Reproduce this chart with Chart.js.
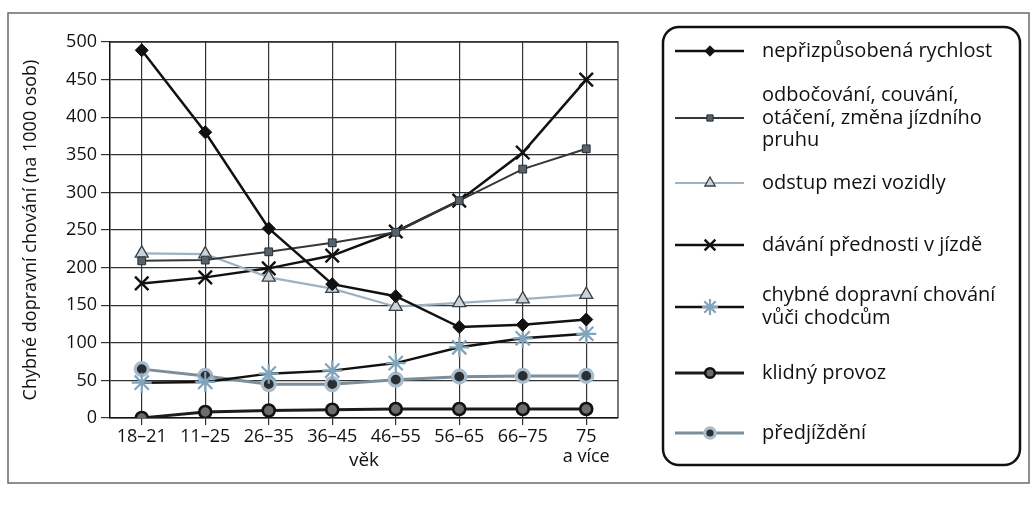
<!DOCTYPE html>
<html lang="cs">
<head>
<meta charset="utf-8">
<title>Chybné dopravní chování podle věku</title>
<script src="https://cdn.jsdelivr.net/npm/chart.js@4/dist/chart.umd.min.js"></script>
<style>
  html, body { margin: 0; padding: 0; background: #fff; }
  #wrap { width: 1035px; height: 511px; position: relative; }
</style>
</head>
<body>
<div id="wrap"><canvas id="chart"></canvas></div>
<script>
// ===== DATA =====
const ageGroups = ['18–21', '11–25', '26–35', '36–45', '46–55', '56–65', '66–75', ['75', 'a více']];
const yTicks = [0, 50, 100, 150, 200, 250, 300, 350, 400, 450, 500];

const speeding      = [489, 380, 252, 178, 162, 121, 124, 131];
const turning       = [209, 210, 221, 233, 247, 289, 331, 358];
const distance      = [219, 218, 187, 172, 148, 153, 158, 164];
const rightOfWay    = [179, 187, 199, 216, 248, 289, 353, 450];
const pedestrians   = [47, 48, 59, 63, 73, 94, 106, 112];
const parking       = [0, 8, 10, 11, 12, 12, 12, 12];
const overtaking    = [65, 56, 45, 45, 51, 55, 56, 56];

const seriesNames = [
  ['nepřizpůsobená rychlost'],
  ['odbočování, couvání,', 'otáčení, změna jízdního', 'pruhu'],
  ['odstup mezi vozidly'],
  ['dávání přednosti v jízdě'],
  ['chybné dopravní chování', 'vůči chodcům'],
  ['klidný provoz'],
  ['předjíždění']
];

const FONT = '"Open Sans", "DejaVu Sans", sans-serif';

/**
 * Build the datasets, one per behaviour type.
 */
function buildDatasets() {
  return [
    { label: seriesNames[0].join(' '), data: speeding, borderColor: '#111', borderWidth: 2.5,
      pointStyle: 'rectRot', pointRadius: 6.5, pointBackgroundColor: '#111', pointBorderColor: '#111', pointBorderWidth: 1 },
    { label: seriesNames[1].join(' '), data: turning, borderColor: '#33383c', borderWidth: 2,
      pointStyle: 'rect', pointRadius: 5.5, pointBackgroundColor: '#58626b', pointBorderColor: '#2a2f33', pointBorderWidth: 1 },
    { label: seriesNames[2].join(' '), data: distance, borderColor: '#9db3c2', borderWidth: 2.2,
      pointStyle: 'triangle', pointRadius: 7.5, pointBackgroundColor: '#c9d3d9', pointBorderColor: '#3a4044', pointBorderWidth: 1.3 },
    { label: seriesNames[3].join(' '), data: rightOfWay, borderColor: '#111', borderWidth: 2.5,
      pointStyle: 'crossRot', pointRadius: 9.5, pointBorderColor: '#111', pointBorderWidth: 2.4 },
    { label: seriesNames[4].join(' '), data: pedestrians, borderColor: '#111', borderWidth: 2.5,
      pointStyle: 'star', pointRadius: 10, pointBorderColor: '#7fa4bb', pointBorderWidth: 2.2 },
    { label: seriesNames[5].join(' '), data: parking, borderColor: '#1c1c1c', borderWidth: 2.8,
      pointStyle: 'circle', pointRadius: 6, pointBackgroundColor: '#6c6c6c', pointBorderColor: '#111', pointBorderWidth: 2.6 },
    { label: seriesNames[6].join(' '), data: overtaking, borderColor: '#7b8e9a', borderWidth: 3,
      pointStyle: 'circle', pointRadius: 6.5, pointBackgroundColor: '#2a2f33', pointBorderColor: '#a8bccb', pointBorderWidth: 3.2 }
  ].map(d => Object.assign({ fill: false, tension: 0 }, d));
}

// Plot frame, outer frame and the boxed legend on the right.
const decorPlugin = {
  id: 'decor',
  afterDatasetsDraw(chart) {
    const { ctx, chartArea: a } = chart;
    ctx.save();
    ctx.strokeStyle = '#333';
    ctx.lineWidth = 1.3;
    ctx.beginPath();
    ctx.moveTo(a.left, a.top);
    ctx.lineTo(a.right, a.top);
    ctx.lineTo(a.right, a.bottom);
    ctx.stroke();
    ctx.restore();
  },
  afterDraw(chart) {
    const ctx = chart.ctx;
    ctx.save();
    // outer frame
    ctx.strokeStyle = '#6a6a6a';
    ctx.lineWidth = 1.5;
    ctx.strokeRect(8, 13, 1021, 470);

    // legend box
    const bx = 663, by = 27, bw = 357, bh = 438, r = 16;
    ctx.strokeStyle = '#111';
    ctx.lineWidth = 2.5;
    ctx.beginPath();
    ctx.moveTo(bx + r, by);
    ctx.arcTo(bx + bw, by, bx + bw, by + bh, r);
    ctx.arcTo(bx + bw, by + bh, bx, by + bh, r);
    ctx.arcTo(bx, by + bh, bx, by, r);
    ctx.arcTo(bx, by, bx + bw, by, r);
    ctx.closePath();
    ctx.stroke();

    const rows = [51, 118, 183, 245, 307, 373, 433];
    const lineH = 22.5;
    chart.data.datasets.forEach((ds, i) => {
      const cy = rows[i];
      ctx.save();
      ctx.strokeStyle = ds.borderColor;
      ctx.lineWidth = ds.borderWidth;
      ctx.beginPath();
      ctx.moveTo(675, cy);
      ctx.lineTo(744, cy);
      ctx.stroke();

      ctx.fillStyle = ds.pointBackgroundColor || 'rgba(0,0,0,0)';
      ctx.strokeStyle = ds.pointBorderColor;
      ctx.lineWidth = ds.pointBorderWidth;
      Chart.helpers.drawPoint(ctx, {
        pointStyle: ds.pointStyle,
        radius: ds.pointRadius * 0.8,
        rotation: 0,
        borderWidth: ds.pointBorderWidth
      }, 710, cy);
      ctx.restore();

      const lines = seriesNames[i];
      ctx.fillStyle = '#111';
      ctx.font = '20px ' + FONT;
      ctx.textBaseline = 'middle';
      ctx.textAlign = 'left';
      const startY = cy - (lines.length - 1) * lineH / 2;
      lines.forEach((t, k) => ctx.fillText(t, 762, startY + k * lineH));
    });
    ctx.restore();
  }
};

document.addEventListener('DOMContentLoaded', () => {
  const ctx = document.getElementById('chart').getContext('2d');
  new Chart(ctx, {
    type: 'line',
    data: { labels: ageGroups, datasets: buildDatasets() },
    plugins: [decorPlugin],
    options: {
      responsive: true,
      maintainAspectRatio: false,
      animation: false,
      layout: { padding: { left: 10, right: 417, top: 42, bottom: 37 } },
      plugins: {
        legend: { display: false },
        tooltip: { enabled: false }
      },
      scales: {
        x: {
          offset: true,
          grid: { offset: false, color: '#333', lineWidth: 1.2, tickLength: 7, tickColor: '#333' },
          border: { color: '#111', width: 1.5 },
          ticks: { color: '#111', font: { family: FONT, size: 18, lineHeight: 1.1 }, padding: 2, maxRotation: 0, autoSkip: false },
          title: { display: true, text: 'věk', color: '#111', font: { family: FONT, size: 19 }, padding: { top: 0, bottom: 2 } },
          afterFit(scale) { scale.height = 56; }
        },
        y: {
          min: 0,
          max: 500,
          afterBuildTicks(scale) { scale.ticks = yTicks.map(v => ({ value: v })); },
          grid: { color: '#333', lineWidth: 1.2, tickLength: 9, tickColor: '#333' },
          border: { color: '#111', width: 1.5 },
          ticks: { color: '#111', font: { family: FONT, size: 18 }, padding: 4 },
          title: { display: true, text: 'Chybné dopravní chování (na 1000 osob)', color: '#111',
                   font: { family: FONT, size: 18 }, padding: { top: 10, bottom: 0 } },
          afterFit(scale) { scale.width = 100; }
        }
      }
    }
  });
});
</script>
</body>
</html>
